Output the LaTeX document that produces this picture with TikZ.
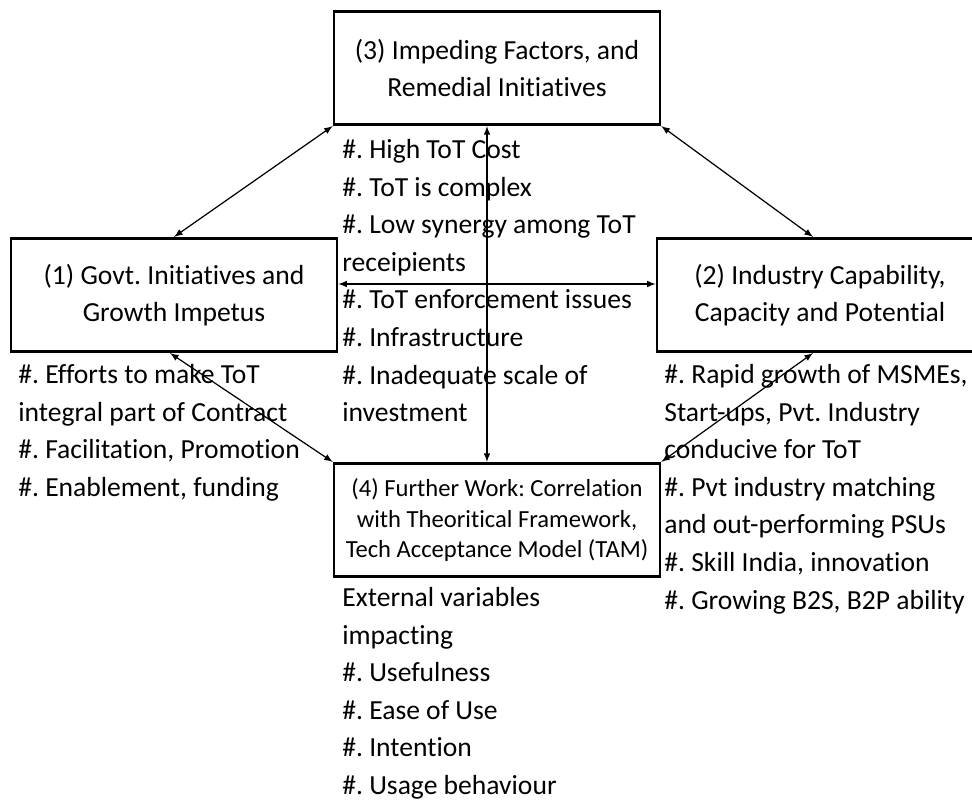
\documentclass[tikz,border=0pt]{standalone}
\usepackage{fontspec}
\setmainfont{Carlito}[Ligatures=NoCommon]
\usetikzlibrary{arrows}
\frenchspacing

\begin{document}
\begin{tikzpicture}[x=0.02cm, y=-0.02cm,
	font=\fontsize{15.7}{21.4}\selectfont,
	box/.style={draw, line width=1.5pt, minimum width=6.52cm, minimum height=2.27cm, align=center, inner sep=2pt},
	txt/.style={anchor=north west, align=left, inner sep=0pt},
	link/.style={latex-latex, line width=0.7pt}]
	\useasboundingbox (0,0) rectangle (972,800);
	\clip (0,0) rectangle (972,800);
	
	%%% Блоки
	\node[box] (b3) at (497,68) {(3) Impeding Factors, and\\Remedial Initiatives};
	\node[box] (b1) at (174,295) {(1) Govt. Initiatives and\\Growth Impetus};
	\node[box] (b2) at (820,295) {(2) Industry Capability,\\Capacity and Potential};
	\node[box, font=\fontsize{14}{17.6}\selectfont] (b4) at (497,520) {(4) Further Work: Correlation\\with Theoritical Framework,\\Tech Acceptance Model (TAM)};
	
	%%% Стрелки
	\draw[link] (b3.south west) -- (b1.north);
	\draw[link] (b3.south east) -- ([xshift=-0.14cm]b2.north);
	\draw[link] ([xshift=-0.2cm]b3.south) -- ([xshift=-0.2cm]b4.north);
	\draw[link] ([yshift=0.22cm]b1.east) -- ([yshift=0.22cm]b2.west);
	\draw[link] ([xshift=-0.08cm]b1.south) -- (b4.north west);
	\draw[link] ([xshift=-0.14cm]b2.south) -- (b4.north east);
	
	%%% Подписи
	
	% Под (3)
	\node[txt] (t3) at (342,139) {\#. High ToT Cost\\\#. ToT is complex\\\#. Low synergy among ToT\\receipients\\\#. ToT enforcement issues\\\#. Infrastructure\\\#. Inadequate scale of\\investment};
	
	% Под (1)
	\node[txt] (t1) at (18,364) {\#. Efforts to make ToT\\integral part of Contract\\\#. Facilitation, Promotion\\\#. Enablement, funding};
	
	% Под (2)
	\node[txt] (t2) at (664,364) {\#. Rapid growth of MSMEs,\\Start-ups, Pvt. Industry\\conducive for ToT\\\#. Pvt industry matching\\and out-performing PSUs\\\#. Skill India, innovation\\\#. Growing B2S, B2P ability};
	
	% Под (4)
	\node[txt] (t4) at (342,587) {External variables\\impacting\\\#. Usefulness\\\#. Ease of Use\\\#. Intention\\\#. Usage behaviour};
\end{tikzpicture}
\end{document}
